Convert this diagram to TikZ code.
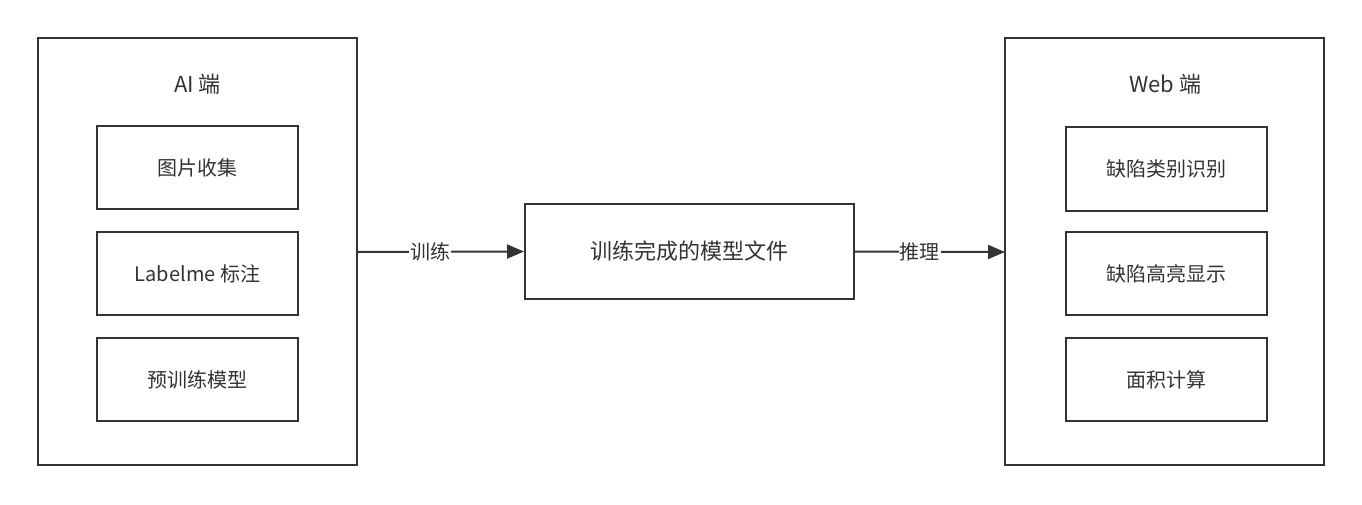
\documentclass[tikz,border=0pt]{standalone}
\usepackage{fontspec}
\setmainfont{Noto Sans CJK SC}
\usetikzlibrary{arrows.meta}
\definecolor{ink}{HTML}{333333}
\begin{document}
\begin{tikzpicture}[x=1pt,y=-1pt,
  container/.style={draw=ink,line width=2pt,fill=white},
  item/.style={draw=ink,line width=2pt,fill=white,text=ink,font=\fontsize{20}{24}\selectfont},
  title/.style={text=ink,font=\fontsize{22}{26}\selectfont},
  mainbox/.style={draw=ink,line width=2pt,fill=white,text=ink,font=\fontsize{22}{26}\selectfont},
  conn/.style={draw=ink,line width=2pt,-{Triangle[length=17pt,width=14pt]}},
  lbl/.style={fill=white,text=ink,inner sep=1pt,font=\fontsize{20}{24}\selectfont}]
\useasboundingbox (0,0) rectangle (1362,504);
% left container
\draw[container] (38,38) rectangle (357,465);
\coordinate (Lr) at (357,252);
\node[title] (ltitle) at (197.5,84) {AI 端};
\node[item,minimum width=201pt,minimum height=83pt,inner sep=0pt] (l1) at (197.5,167.5) {图片收集};
\node[item,minimum width=201pt,minimum height=83pt,inner sep=0pt] (l2) at (197.5,273.5) {Labelme 标注};
\node[item,minimum width=201pt,minimum height=83pt,inner sep=0pt] (l3) at (197.5,379.5) {预训练模型};
% right container
\draw[container] (1005,38) rectangle (1324,465);
\coordinate (Rl) at (1005,252);
\node[title] (rtitle) at (1165,84) {Web 端};
\node[item,minimum width=201pt,minimum height=84pt,inner sep=0pt] (r1) at (1166,169) {缺陷类别识别};
\node[item,minimum width=201pt,minimum height=83pt,inner sep=0pt] (r2) at (1166,273.5) {缺陷高亮显示};
\node[item,minimum width=201pt,minimum height=83pt,inner sep=0pt] (r3) at (1166,379.5) {面积计算};
% middle
\node[mainbox,minimum width=329pt,minimum height=95pt,inner sep=0pt] (mid) at (689.5,251.5) {训练完成的模型文件};
% connectors
\draw[conn] (Lr) -- (mid.west) node[lbl,pos=0.44] (t1) {训练};
\draw[conn] (mid.east) -- (Rl) node[lbl,pos=0.43] (t2) {推理};
\end{tikzpicture}
\end{document}
